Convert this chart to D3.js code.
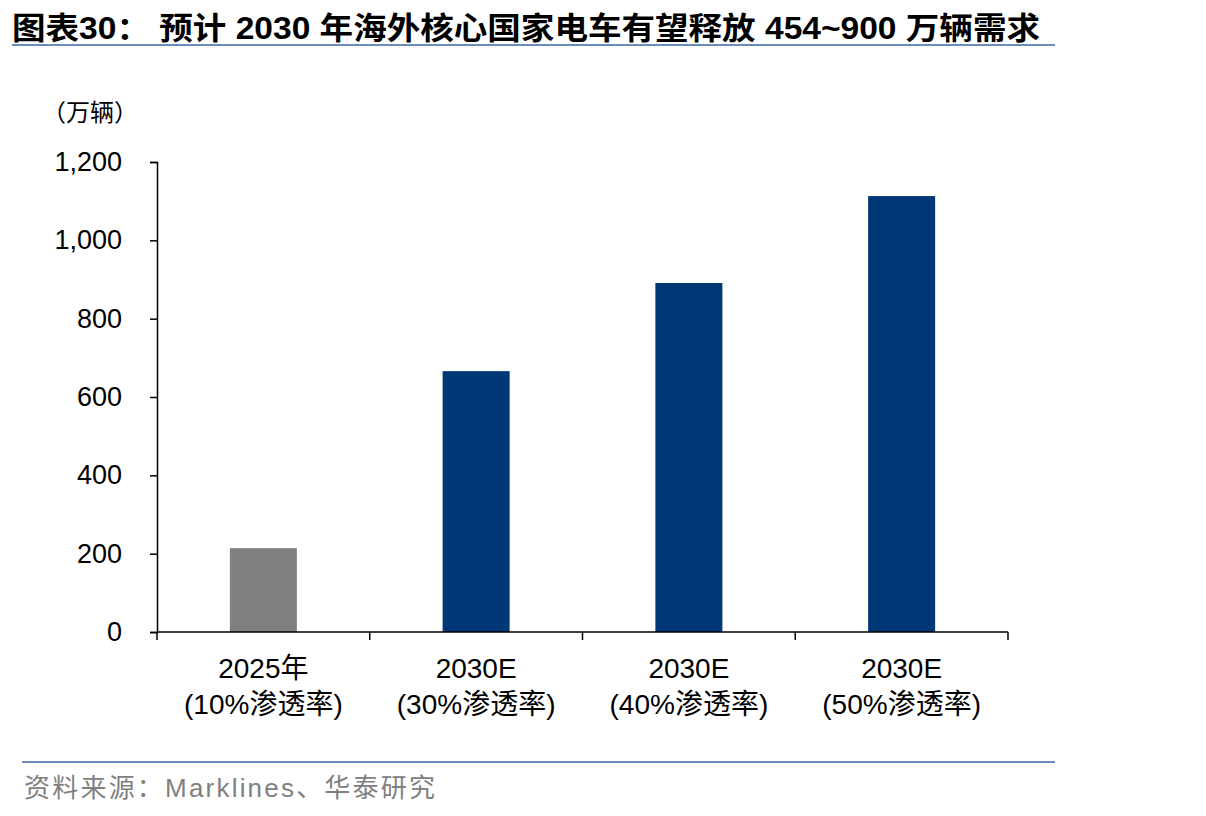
<!DOCTYPE html>
<html><head><meta charset="utf-8">
<script src="https://cdn.jsdelivr.net/npm/d3@7"></script>
<style>body{margin:0;background:#fff;} svg{display:block;}</style>
</head><body>
<svg id="c" width="1206" height="816"></svg>
<script>
const categories = ["2025年|(10%渗透率)", "2030E|(30%渗透率)", "2030E|(40%渗透率)", "2030E|(50%渗透率)"];
const values = [214, 666, 891, 1113];
const barColors = ["#808080", "#003776", "#003776", "#003776"];
const yTicks = [0, 200, 400, 600, 800, 1000, 1200];
const titleText = "图表30：  预计 2030 年海外核心国家电车有望释放 454~900 万辆需求";
const unitText = "（万辆）";
const sourceText = "资料来源：Marklines、华泰研究";

(function () {
const svg = d3.select("#c");
const cjk = "'Liberation Sans', Arial, 'Noto Sans CJK SC', sans-serif";
const pL = 157, pR = 1008, pT = 162, pB = 632;

svg.append("text").attr("x", 12).attr("y", 39).attr("font-family", "'Liberation Sans Narrow', 'Liberation Sans', 'Noto Sans CJK SC', sans-serif")
  .attr("font-weight", "bold").attr("font-size", 31).attr("fill", "#000")
  .attr("textLength", 1028).attr("lengthAdjust", "spacingAndGlyphs").text(titleText);
svg.append("line").attr("x1", 12).attr("x2", 1055).attr("y1", 45).attr("y2", 45).attr("stroke", "#6a8cbf").attr("stroke-width", 2);
svg.append("line").attr("x1", 22).attr("x2", 1055).attr("y1", 762).attr("y2", 762).attr("stroke", "#6a8cbf").attr("stroke-width", 2);
svg.append("text").attr("x", 24).attr("y", 797).attr("font-family", cjk).attr("font-size", 26).attr("fill", "#808080")
  .attr("textLength", 411).attr("lengthAdjust", "spacing").text(sourceText);
svg.append("text").attr("x", 42).attr("y", 121).attr("font-family", cjk).attr("font-size", 24).attr("fill", "#000").text(unitText);

const x = d3.scaleBand().domain(categories).range([pL, pR]).paddingInner(0.685).paddingOuter(0.3425);
const y = d3.scaleLinear().domain([0, 1200]).range([pB, pT]);

svg.selectAll("rect.bar").data(values).enter().append("rect").attr("class", "bar")
  .attr("x", (d, i) => x(categories[i])).attr("width", x.bandwidth())
  .attr("y", d => y(d)).attr("height", d => y(0) - y(d))
  .attr("fill", (d, i) => barColors[i]);

const yAxis = svg.append("g").attr("transform", `translate(${pL},0)`)
  .call(d3.axisLeft(y).tickValues(yTicks).tickSize(7).tickPadding(28).tickFormat(d3.format(",")));
yAxis.select(".domain").attr("stroke", "#000").attr("stroke-width", 1.5);
yAxis.selectAll(".tick line").attr("stroke", "#000").attr("stroke-width", 1.5);
yAxis.selectAll("text").attr("font-family", cjk).attr("font-size", 27).attr("fill", "#000");

const step = (pR - pL) / categories.length;
const bounds = d3.range(categories.length + 1).map(i => pL + i * step);
const xg = svg.append("g");
xg.append("line").attr("x1", pL).attr("x2", pR).attr("y1", pB).attr("y2", pB).attr("stroke", "#000").attr("stroke-width", 1.5);
xg.selectAll("line.t").data(bounds).enter().append("line").attr("class", "t")
  .attr("x1", d => d).attr("x2", d => d).attr("y1", pB).attr("y2", pB + 8).attr("stroke", "#000").attr("stroke-width", 1.5);
categories.forEach(c => {
  const cx = x(c) + x.bandwidth() / 2;
  const parts = c.split("|");
  const t = xg.append("text").attr("text-anchor", "middle").attr("font-family", cjk).attr("font-size", 28).attr("fill", "#000");
  t.append("tspan").attr("x", cx).attr("y", 678).text(parts[0]);
  t.append("tspan").attr("x", cx).attr("y", 714).text(parts[1]);
});
})();
</script>
</body></html>
